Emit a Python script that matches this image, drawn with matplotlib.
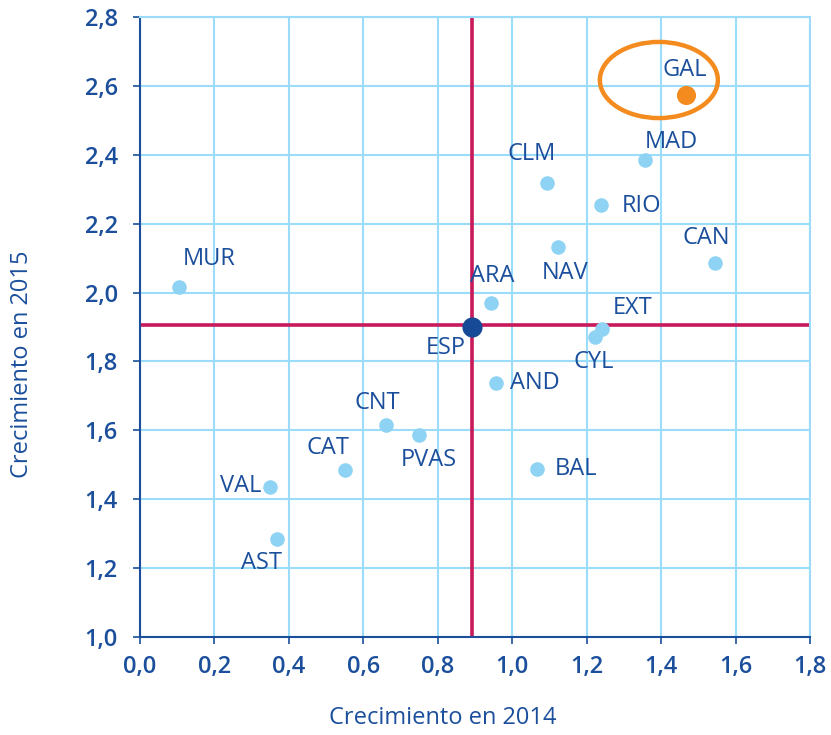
import matplotlib
matplotlib.use("Agg")
import matplotlib.pyplot as plt
from matplotlib.patches import Ellipse

regions = ["MUR", "GAL", "MAD", "CLM", "RIO", "NAV", "CAN", "ARA", "EXT", "CYL",
           "AND", "CNT", "PVAS", "CAT", "BAL", "VAL", "AST"]
g2014 = [0.105, 1.467, 1.357, 1.094, 1.239, 1.123, 1.545, 0.943, 1.242, 1.222,
         0.956, 0.661, 0.750, 0.551, 1.067, 0.349, 0.368]
g2015 = [2.016, 2.574, 2.385, 2.318, 2.254, 2.132, 2.086, 1.970, 1.894, 1.871,
         1.737, 1.615, 1.586, 1.485, 1.488, 1.435, 1.284]
esp_label = "ESP"
esp_x, esp_y = 0.891, 1.905
highlight = "GAL"

xticks = [0.0, 0.2, 0.4, 0.6, 0.8, 1.0, 1.2, 1.4, 1.6, 1.8]
yticks = [1.0, 1.2, 1.4, 1.6, 1.8, 2.0, 2.2, 2.4, 2.6, 2.8]

# label offsets in points (dx, dy, ha)
offsets = {
    "MUR": (22, 20, "center"), "GAL": (-1, 18, "center"), "MAD": (19, 13, "center"),
    "CLM": (-11, 21, "center"), "RIO": (15, -1, "left"), "NAV": (5, -19, "center"),
    "CAN": (-6, 18, "center"), "ARA": (1, 19, "center"), "EXT": (22, 15, "center"),
    "CYL": (-1, -18, "center"), "AND": (10, 0, "left"), "CNT": (-6, 16, "center"),
    "PVAS": (7, -18, "center"), "CAT": (-12, 16, "center"), "BAL": (13, 0, "left"),
    "VAL": (-6, 1, "right"), "AST": (-11, -17, "center"),
}

dark = "#1b4f9c"
light = "#8ed3f3"
grid_c = "#9adcfa"
red = "#c8195a"
orange = "#f38b1f"
font = "Open Sans"

fig = plt.figure(figsize=(8.31, 7.35), dpi=100)
ax = fig.add_axes([0.1685, 0.1333, 0.8062, 0.8436])
ax.set_xlim(0, 1.8)
ax.set_ylim(1.0, 2.8)
ax.set_xticks(xticks)
ax.set_yticks(yticks)
ax.set_xticklabels([f"{v:.1f}".replace(".", ",") for v in xticks], fontfamily=font,
                   fontsize=17, fontweight=600, color=dark)
ax.set_yticklabels([f"{v:.1f}".replace(".", ",") for v in yticks], fontfamily=font,
                   fontsize=17, fontweight=600, color=dark)
ax.grid(True, color=grid_c, linewidth=1.5, zorder=0)
ax.set_axisbelow(True)
for s in ["top", "right"]:
    ax.spines[s].set_color(grid_c)
    ax.spines[s].set_linewidth(1.5)
for s in ["left", "bottom"]:
    ax.spines[s].set_color(dark)
    ax.spines[s].set_linewidth(1.5)
ax.tick_params(axis="x", colors=dark, length=5, width=1.2, direction="out", pad=8)
ax.tick_params(axis="y", colors=dark, length=5, width=1.2, direction="out", pad=11)

ax.axvline(esp_x, color=red, linewidth=2.6, zorder=2)
ax.axhline(esp_y, color=red, linewidth=2.6, zorder=2)

for name, x, y in zip(regions, g2014, g2015):
    if name == highlight:
        ax.scatter([x], [y], s=190, color=orange, zorder=3, linewidths=0)
    else:
        ax.scatter([x], [y], s=110, color=light, zorder=3, linewidths=0)
    dx, dy, ha = offsets[name]
    ax.annotate(name, (x, y), xytext=(dx, dy), textcoords="offset points",
                ha=ha, va="center", fontsize=17, fontweight=500, color=dark, fontfamily=font)

ax.scatter([esp_x], [esp_y - 0.005], s=210, color="#174a96", zorder=4, linewidths=0)
ax.annotate(esp_label, (esp_x, esp_y - 0.005), xytext=(-19, -15), textcoords="offset points",
            ha="center", va="center", fontsize=17, fontweight=500, color=dark, fontfamily=font)

ell = Ellipse((1.394, 2.617), 0.317, 0.221, fill=False, edgecolor=orange, linewidth=3.2, zorder=5)
ax.add_patch(ell)

ax.set_xlabel("Crecimiento en 2014", fontfamily=font, fontsize=17, color=dark)
ax.set_ylabel("Crecimiento en 2015", fontfamily=font, fontsize=17, color=dark)
ax.xaxis.set_label_coords(0.452, -0.112)
ax.yaxis.set_label_coords(-0.158, 0.44)

fig.savefig("out.png", dpi=100)
